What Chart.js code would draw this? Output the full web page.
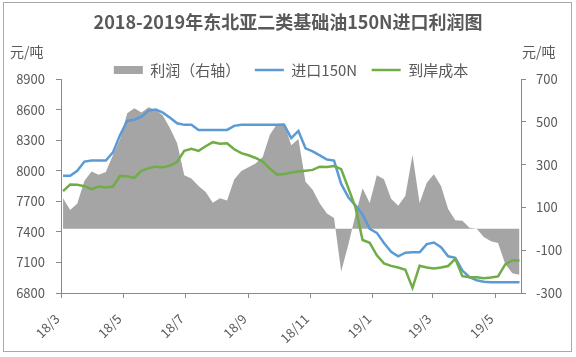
<!DOCTYPE html>
<html><head><meta charset="utf-8">
<script src="https://cdn.jsdelivr.net/npm/chart.js@4.4.1/dist/chart.umd.min.js"></script>
<style>html,body{margin:0;padding:0;background:#fff}canvas{display:block}</style>
</head><body>
<canvas id="c" width="576" height="357" style="width:576px;height:357px"></canvas>
<script>
// ---- data ----
const dates = [
'2018-03-03','2018-03-10','2018-03-17','2018-03-24','2018-03-31','2018-04-07','2018-04-14','2018-04-21','2018-04-28',
'2018-05-05','2018-05-12','2018-05-19','2018-05-26','2018-06-02','2018-06-09','2018-06-16','2018-06-23','2018-06-30',
'2018-07-07','2018-07-14','2018-07-21','2018-07-28','2018-08-04','2018-08-11','2018-08-18','2018-08-25',
'2018-09-01','2018-09-08','2018-09-15','2018-09-22','2018-09-29','2018-10-06','2018-10-13','2018-10-20','2018-10-27',
'2018-11-03','2018-11-10','2018-11-17','2018-11-24','2018-12-01','2018-12-08','2018-12-15','2018-12-22','2018-12-29',
'2019-01-05','2019-01-12','2019-01-19','2019-01-26','2019-02-02','2019-02-09','2019-02-16','2019-02-23',
'2019-03-02','2019-03-09','2019-03-16','2019-03-23','2019-03-30','2019-04-06','2019-04-13','2019-04-20','2019-04-27',
'2019-05-04','2019-05-11','2019-05-18','2019-05-25'];
const profit = [143,88,118,225,268,252,265,345,420,540,563,543,568,555,530,470,400,250,
235,200,172,122,143,132,230,270,288,305,335,440,490,493,390,420,220,182,118,72,50,-200,-75,65,190,120,
250,232,140,108,155,345,120,215,255,200,92,40,38,5,0,-38,-58,-66,-165,-208,-215];
const importPrice = [7950,7950,8000,8090,8100,8100,8100,8180,8350,8490,8500,8530,8590,8600,8570,8520,8465,8450,
8450,8400,8400,8400,8400,8400,8440,8450,8450,8450,8450,8450,8450,8450,8320,8390,8220,8190,8150,8110,8100,7870,
7740,7660,7570,7430,7390,7290,7205,7160,7195,7200,7200,7280,7295,7250,7160,7145,7020,6955,6925,6910,6905,6905,6905,6905,6905];
const landedCost = [7800,7865,7862,7848,7818,7845,7836,7845,7950,7945,7930,8000,8025,8040,8035,8050,8088,8195,
8215,8195,8240,8280,8265,8270,8210,8172,8152,8125,8090,8020,7962,7968,7982,7992,8000,8008,8040,8037,8045,8015,
7830,7640,7320,7292,7170,7090,7066,7050,7028,6850,7068,7050,7040,7050,7065,7135,6965,6955,6955,6945,6952,6963,7080,7120,7120];
const tickDates = ['2018-03-01','2018-05-01','2018-07-01','2018-09-01','2018-11-01','2019-01-01','2019-03-01','2019-05-01'];
const tickLabels = ['18/3','18/5','18/7','18/9','18/11','19/1','19/3','19/5'];
const seriesNames = ['利润（右轴）','进口150N','到岸成本'];
const titleText = '2018-2019年东北亚二类基础油150N进口利润图';
const unitText = '元/吨';

// ---- helpers ----
const BASE = Date.UTC(2018, 2, 1);
function dayOf(s){ const [y,m,d] = s.split('-').map(Number); return (Date.UTC(y, m-1, d) - BASE) / 86400000; }
const xs = dates.map(dayOf);
const tickDays = tickDates.map(dayOf);
const pts = arr => arr.map((v,i) => ({x: xs[i], y: v}));

const FONT = "'Noto Sans CJK SC','Noto Sans',sans-serif";
const TXT = '#595959';
const AX = '#898989';

const decor = {
  id: 'decor',
  beforeDraw(chart){
    const c = chart.ctx; c.save();
    c.strokeStyle = '#a9a9a9'; c.lineWidth = 1;
    c.strokeRect(3.5, 2.5, 568, 349);
    c.restore();
  },
  afterDraw(chart){
    const c = chart.ctx; c.save();
    c.fillStyle = TXT; c.font = '14px ' + FONT; c.textBaseline = 'middle'; c.textAlign = 'left';
    c.fillText(unitText, 10, 52);
    c.fillText(unitText, 522, 52);
    c.restore();
  }
};

new Chart(document.getElementById('c'), {
  type: 'line',
  data: {
    datasets: [
      { label: seriesNames[0], data: pts(profit), yAxisID: 'y1', fill: 'origin',
        backgroundColor: '#a5a5a5', borderWidth: 0, borderColor: 'rgba(0,0,0,0)', pointRadius: 0,
        pointStyle: 'rect', tension: 0, order: 3 },
      { label: seriesNames[1], data: pts(importPrice), yAxisID: 'y', fill: false,
        borderColor: '#5b9bd5', backgroundColor: '#5b9bd5', borderWidth: 2.5, pointRadius: 0,
        pointStyle: 'line', tension: 0, order: 2 },
      { label: seriesNames[2], data: pts(landedCost), yAxisID: 'y', fill: false,
        borderColor: '#70ad47', backgroundColor: '#70ad47', borderWidth: 2.5, pointRadius: 0,
        pointStyle: 'line', tension: 0, order: 1 }
    ]
  },
  options: {
    responsive: false, animation: false, devicePixelRatio: 1,
    layout: { padding: 0 },
    plugins: {
      title: { display: true, text: titleText, color: TXT,
        font: { family: FONT, size: 18, weight: 'bold' }, padding: { top: 11, bottom: 15.4 } },
      legend: { display: true, position: 'top', fullSize: false, maxHeight: 31,
        labels: { usePointStyle: true, pointStyleWidth: 29, boxHeight: 8, padding: 14.5,
          color: TXT, font: { family: FONT, size: 15 },
          sort: (a, b) => a.datasetIndex - b.datasetIndex } },
      tooltip: { enabled: false }
    },
    scales: {
      x: { type: 'linear', min: 0, max: 451.5,
        afterBuildTicks: s => { s.ticks = tickDays.map(v => ({ value: v })); },
        afterFit: s => { s.height = 64; },
        ticks: { autoSkip: false, minRotation: 45, maxRotation: 45, padding: 13, labelOffset: -4,
          color: TXT, font: { family: FONT, size: 13 },
          callback: v => tickLabels[tickDays.indexOf(v)] },
        grid: { drawOnChartArea: false, tickLength: 5, color: AX },
        border: { color: AX, width: 1 } },
      y: { position: 'left', min: 6800, max: 8900,
        afterFit: s => { s.width = 61; },
        ticks: { stepSize: 300, padding: 11, color: TXT, font: { family: FONT, size: 13 },
          callback: v => String(v) },
        grid: { drawOnChartArea: false, tickLength: 5, color: AX },
        border: { color: AX, width: 1 } },
      y1: { position: 'right', min: -300, max: 700,
        afterFit: s => { s.width = 55; },
        ticks: { stepSize: 200, padding: 10, color: TXT, font: { family: FONT, size: 13 },
          callback: v => String(v) },
        grid: { drawOnChartArea: false, tickLength: 5, color: AX },
        border: { color: AX, width: 1 } }
    }
  },
  plugins: [decor]
});
</script>
</body></html>
